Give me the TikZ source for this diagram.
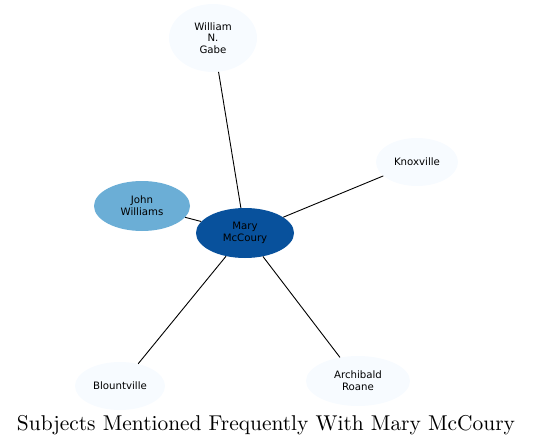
\documentclass[tikz,border=0pt]{standalone}
\usepackage{fontspec}
\newfontfamily\nodefont{DejaVu Sans}
\usetikzlibrary{shapes.geometric}
\definecolor{hubblue}{HTML}{08519C}
\definecolor{midblue}{HTML}{6BAED6}
\definecolor{paleblue}{HTML}{F7FBFF}
\tikzset{
  ent/.style={ellipse, draw=none, inner sep=0pt, align=center,
    font=\nodefont\fontsize{10.2}{11.7}\selectfont, text=black},
  link/.style={draw=black, line width=0.9pt}
}
\begin{document}
\begin{tikzpicture}[x=1pt, y=-1pt]
\useasboundingbox (0,0) rectangle (533,447);
\node[ent, fill=paleblue, minimum width=88pt, minimum height=68pt] (gabe) at (213,38) {William\\N.\\Gabe};
\node[ent, fill=hubblue, minimum width=98pt, minimum height=50pt] (mary) at (245,233) {Mary\\McCoury};
\node[ent, fill=midblue, minimum width=96pt, minimum height=50pt] (john) at (142,206) {John\\Williams};
\node[ent, fill=paleblue, minimum width=82pt, minimum height=48pt] (knox) at (417,162) {Knoxville};
\node[ent, fill=paleblue, minimum width=90pt, minimum height=48pt] (blount) at (120,386) {Blountville};
\node[ent, fill=paleblue, minimum width=104pt, minimum height=50pt] (roane) at (358,381) {Archibald\\Roane};
\draw[link] (mary) -- (gabe);
\draw[link] (mary) -- (knox);
\draw[link] (mary) -- (john);
\draw[link] (mary) -- (blount);
\draw[link] (mary) -- (roane);
\node (title) at (266,425) {\resizebox{498pt}{!}{Subjects Mentioned Frequently With Mary McCoury}};
\end{tikzpicture}
\end{document}
